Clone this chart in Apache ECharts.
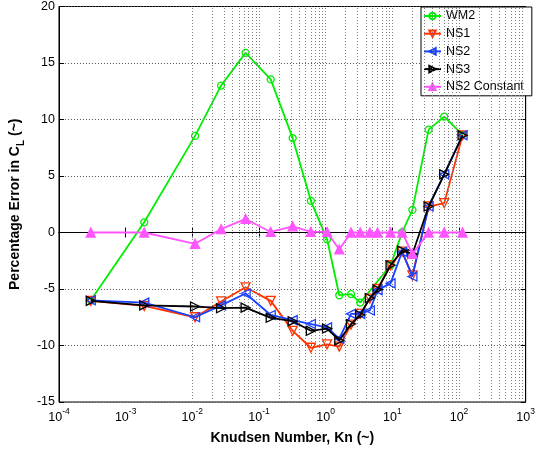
<!DOCTYPE html>
<html><head><meta charset="utf-8">
<script src="https://cdn.jsdelivr.net/npm/echarts@6/dist/echarts.min.js"></script>
<style>html,body{margin:0;padding:0;background:#fff}#c{width:538px;height:452px}</style>
</head><body><div id="c"></div>
<script>
// Knudsen numbers (x) shared by all series
const kn   = [0.0003, 0.0019, 0.011, 0.027, 0.063, 0.15, 0.32, 0.6, 1.05, 1.6, 2.4, 3.3, 4.6, 6.0, 9.4, 14, 20, 35, 60, 113];
const wm2  = [-6.0, 0.9, 8.55, 13.0, 15.9, 13.55, 8.35, 2.8, -0.6, -5.55, -5.45, -6.2, null, null, -2.9, 0.0, 2.0, 9.1, 10.25, 8.65];
const ns1  = [-6.05, -6.5, -7.5, -6.1, -4.85, -6.05, -8.7, -10.2, -9.9, -10.1, -8.15, -7.2, -5.85, -5.0, -2.9, -1.7, -3.8, 2.3, 2.6, 8.6];
const ns2  = [-6.0, -6.2, -7.5, -6.45, -5.4, -7.3, -7.75, -8.1, -8.4, -9.4, -7.2, -7.2, -6.9, -5.1, -4.5, -1.7, -3.9, 2.3, 5.15, 8.6];
const ns3  = [-6.05, -6.45, -6.55, -6.7, -6.65, -7.55, -7.85, -8.7, -8.5, -9.55, -8.1, -7.3, -5.8, -5.05, -2.9, -1.6, -1.9, 2.3, 5.15, 8.6];
const ns2c = [0, 0, -1.0, 0.3, 1.2, 0.05, 0.55, 0.05, 0.05, -1.5, 0, 0, 0, 0, 0, 0, -1.9, 0, 0, 0];
const seriesNames = ['WM2', 'NS1', 'NS2', 'NS3', 'NS2 Constant'];
const xDecades = [-4, -3, -2, -1, 0, 1, 2, 3];
const yTicks = [-15, -10, -5, 0, 5, 10, 15, 20];

const FONT = "'Liberation Sans', Arial, Helvetica, sans-serif";
function pairs(ys) { const out = []; ys.forEach((y, i) => { if (y !== null) out.push([kn[i], y]); }); return out; }

// vertical grid lines: every m*10^d (m = 1..9), excluding the plot edges
const vLines = [];
for (let d = xDecades[0]; d < xDecades[xDecades.length - 1]; d++)
  for (let m = 1; m <= 9; m++) {
    if (m === 1 && d === xDecades[0]) continue;
    vLines.push({ xAxis: +(m * Math.pow(10, d)).toPrecision(3) });
  }

const styles = [
  { color: '#00ee00', symbol: 'circle', size: 7, rot: 0, fill: 'transparent' },
  { color: '#ff3300', symbol: 'triangle', size: 9, rot: 180, fill: 'transparent' },
  { color: '#1a40ff', symbol: 'triangle', size: 9, rot: 90, fill: 'transparent' },
  { color: '#000000', symbol: 'triangle', size: 9, rot: -90, fill: 'transparent' },
  { color: '#ff55ff', symbol: 'triangle', size: 9, rot: 0, fill: '#ff55ff' }
];
const datas = [wm2, ns1, ns2, ns3, ns2c];

const series = [{
  type: 'line', data: [[kn[0], yTicks[0]]], z: 1, silent: true, name: '__grid',
  symbol: 'none', lineStyle: { opacity: 0 }, emphasis: { disabled: true },
  markLine: { silent: true, symbol: ['none', 'none'], label: { show: false }, animation: false,
    emphasis: { disabled: true },
    lineStyle: { color: '#808080', type: [1, 2], width: 1 }, data: vLines }
}];
datas.forEach((d, i) => {
  const s = styles[i];
  series.push({
    name: seriesNames[i], type: 'line', data: pairs(d), z: 3 + i,
    symbol: s.symbol, symbolSize: s.size, symbolRotate: s.rot, showAllSymbol: true,
    lineStyle: { color: s.color, width: 1.8 },
    itemStyle: { color: s.fill, borderColor: s.color, borderWidth: 1.3 },
    emphasis: { disabled: true }
  });
});

const chart = echarts.init(document.getElementById('c'));
chart.setOption({
  animation: false,
  backgroundColor: '#fff',
  textStyle: { fontFamily: FONT },
  grid: { left: 49, right: 7, top: 5, bottom: 50, show: true, borderColor: '#000', borderWidth: 1, backgroundColor: 'transparent' },
  legend: {
    data: seriesNames, orient: 'vertical', left: 421, top: 7,
    backgroundColor: '#fff', borderColor: '#000', borderWidth: 1, borderRadius: 0,
    padding: [2, 8, 2, 2], itemGap: 3.7, itemWidth: 17, itemHeight: 8,
    textStyle: { fontSize: 12.5, color: '#000', fontFamily: FONT, lineHeight: 14 }
  },
  xAxis: [{
    type: 'log', logBase: 10, min: 1e-4, max: 1e3, splitNumber: 7,
    name: 'Knudsen Number, Kn (~)', nameLocation: 'middle', nameGap: 29,
    nameTextStyle: { fontSize: 14, fontWeight: 'bold', color: '#000', fontFamily: FONT },
    axisLine: { show: true, lineStyle: { color: '#000', width: 1 } },
    axisTick: { show: true, inside: true, length: 5, lineStyle: { color: '#000' } },
    axisLabel: {
      show: true, margin: 5, color: '#000',
      formatter: v => '{a|10}{b|' + Math.round(Math.log10(v)) + '}',
      rich: {
        a: { fontSize: 12.5, lineHeight: 17, verticalAlign: 'bottom', color: '#000', fontFamily: FONT },
        b: { fontSize: 8.5, lineHeight: 10, verticalAlign: 'top', color: '#000', fontFamily: FONT }
      }
    },
    splitLine: { show: false }
  }, {
    type: 'log', logBase: 10, min: 1e-4, max: 1e3, splitNumber: 7, position: 'top',
    axisLine: { show: true, lineStyle: { color: '#000' } },
    axisTick: { show: true, inside: true, length: 5, lineStyle: { color: '#000' } },
    axisLabel: { show: false }, splitLine: { show: false }
  }],
  yAxis: [{
    type: 'value', min: -15, max: 20, interval: 5,
    name: '{n|Percentage Error in C}{s|L}{n| (~)}', nameLocation: 'middle', nameGap: 21,
    nameTextStyle: {
      rich: {
        n: { fontSize: 14, fontWeight: 'bold', color: '#000', lineHeight: 18, verticalAlign: 'top', fontFamily: FONT },
        s: { fontSize: 10, fontWeight: 'bold', color: '#000', lineHeight: 12, verticalAlign: 'bottom', fontFamily: FONT }
      }
    },
    axisLine: { show: true, lineStyle: { color: '#000', width: 1 } },
    axisTick: { show: true, inside: true, length: 5, lineStyle: { color: '#000' } },
    axisLabel: { show: true, margin: 4, fontSize: 12.5, color: '#000', fontFamily: FONT },
    splitLine: { show: true, lineStyle: { color: '#555', type: [1, 2], width: 1 } }
  }, {
    type: 'value', min: -15, max: 20, interval: 5, position: 'right',
    axisLine: { show: true, lineStyle: { color: '#000' } },
    axisTick: { show: true, inside: true, length: 5, lineStyle: { color: '#000' } },
    axisLabel: { show: false }, splitLine: { show: false }
  }],
  series: series
});
</script></body></html>
